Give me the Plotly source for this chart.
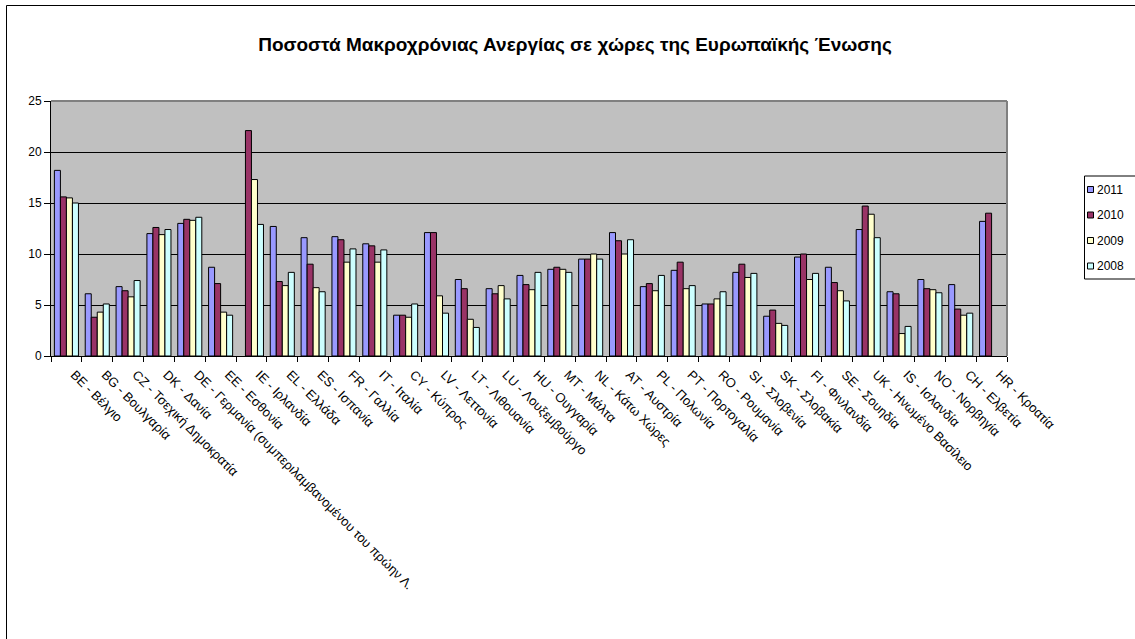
import plotly.graph_objects as go

categories = [
    "BE - Βέλγιο", "BG - Βουλγαρία", "CZ - Τσεχική Δημοκρατία", "DK - Δανία",
    "DE - Γερμανία (συμπεριλαμβανομένου του πρώην Λ.", "EE - Εσθονία", "IE - Ιρλανδία",
    "EL - Ελλάδα", "ES - Ισπανία", "FR - Γαλλία", "IT - Ιταλία", "CY - Κύπρος",
    "LV - Λεττονία", "LT - Λιθουανία", "LU - Λουξεμβούργο", "HU - Ουγγαρία", "MT - Μάλτα",
    "NL - Κάτω Χώρες", "AT - Αυστρία", "PL - Πολωνία", "PT - Πορτογαλία", "RO - Ρουμανία",
    "SI - Σλοβενία", "SK - Σλοβακία", "FI - Φινλανδία", "SE - Σουηδία",
    "UK - Ηνωμένο Βασίλειο", "IS - Ισλανδία", "NO - Νορβηγία", "CH - Ελβετία", "HR - Κροατία",
]

series_names = ["2011", "2010", "2009", "2008"]

values_2011 = [18.2, 6.1, 6.8, 12.0, 13.0, 8.7, None, 12.7, 11.6, 11.7, 11.0, 4.0, 12.1, 7.5, 6.6,
               7.9, 8.5, 9.5, 12.1, 6.8, 8.4, 5.1, 8.2, 3.9, 9.7, 8.7, 12.4, 6.3, 7.5, 7.0, 13.2]
values_2010 = [15.6, 3.8, 6.4, 12.6, 13.4, 7.1, 22.1, 7.3, 9.0, 11.4, 10.8, 4.0, 12.1, 6.6, 6.1,
               7.0, 8.7, 9.5, 11.3, 7.1, 9.2, 5.1, 9.0, 4.5, 10.0, 7.2, 14.7, 6.1, 6.6, 4.6, 14.0]
values_2009 = [15.5, 4.3, 5.8, 11.9, 13.3, 4.3, 17.3, 6.9, 6.7, 9.2, 9.2, 3.8, 5.9, 3.6, 6.9,
               6.5, 8.5, 10.0, 10.0, 6.4, 6.6, 5.6, 7.7, 3.2, 7.5, 6.4, 13.9, 2.2, 6.5, 4.0, None]
values_2008 = [15.0, 5.1, 7.4, 12.4, 13.6, 4.0, 12.9, 8.2, 6.3, 10.5, 10.4, 5.1, 4.2, 2.8, 5.6,
               8.2, 8.2, 9.5, 11.4, 7.9, 6.9, 6.3, 8.1, 3.0, 8.1, 5.4, 11.6, 2.9, 6.2, 4.2, None]

series_values = [values_2011, values_2010, values_2009, values_2008]
colors = ["#9999FF", "#993366", "#FFFFCC", "#CCFFFF"]

title_text = "Ποσοστά Μακροχρόνιας Ανεργίας σε χώρες της Ευρωπαϊκής Ένωσης"

W, H = 1135, 639
ML, MR, MT, MB = 51, 128, 101, 283
PW, PH = W - ML - MR, H - MT - MB
FONT = "Arial, Liberation Sans, sans-serif"


def px_x(px):
    return (px - ML) / PW


def px_y(py):
    return (H - MB - py) / PH


fig = go.Figure()
for name, vals, col in zip(series_names, series_values, colors):
    fig.add_trace(go.Bar(
        x=categories, y=vals, name=name,
        marker=dict(color=col, line=dict(color="black", width=1)),
        showlegend=False,
    ))

shapes = []
annotations = []

# plot area top/right border (gray)
shapes.append(dict(type="line", xref="paper", yref="paper", x0=0, x1=1, y0=1, y1=1,
                   line=dict(color="#808080", width=2), layer="above"))
shapes.append(dict(type="line", xref="paper", yref="paper", x0=1, x1=1, y0=0, y1=1,
                   line=dict(color="#808080", width=2), layer="above"))

# outer chart border
shapes.append(dict(type="rect", xref="paper", yref="paper",
                   x0=px_x(6.5), x1=px_x(1145), y0=px_y(5.5), y1=px_y(650),
                   line=dict(color="black", width=1), fillcolor="rgba(0,0,0,0)"))

# legend box
shapes.append(dict(type="rect", xref="paper", yref="paper",
                   x0=px_x(1084.5), x1=px_x(1145), y0=px_y(176), y1=px_y(279),
                   line=dict(color="black", width=1), fillcolor="white"))
for i, (name, col) in enumerate(zip(series_names, colors)):
    cy = 189.5 + 25.5 * i
    shapes.append(dict(type="rect", xref="paper", yref="paper",
                       x0=px_x(1087.5), x1=px_x(1093.5), y0=px_y(cy - 3), y1=px_y(cy + 3),
                       line=dict(color="black", width=1), fillcolor=col))
    annotations.append(dict(xref="paper", yref="paper", x=px_x(1095), y=px_y(cy),
                            xanchor="left", yanchor="middle", text=name, showarrow=False,
                            font=dict(family=FONT, size=12, color="black")))

fig.update_layout(
    width=W, height=H,
    margin=dict(l=ML, r=MR, t=MT, b=MB, pad=0),
    paper_bgcolor="white",
    plot_bgcolor="#C0C0C0",
    barmode="group",
    bargap=0.22,
    bargroupgap=0,
    title=dict(text=title_text, x=575 / W, xref="container", xanchor="center",
               y=1 - 44 / H, yref="container", yanchor="middle",
               font=dict(family=FONT, size=19, color="black", weight="bold")),
    font=dict(family=FONT, size=11, color="black"),
    shapes=shapes,
    annotations=annotations,
    showlegend=False,
)
fig.update_xaxes(
    type="category", tickangle=45, tickson="boundaries", ticks="outside", ticklen=5,
    tickcolor="black", showline=True, linecolor="black", linewidth=1,
    showgrid=False, tickfont=dict(family=FONT, size=13, color="black"),
    ticklabelshift=8, ticklabelstandoff=5,
)
fig.update_yaxes(
    range=[0, 25], dtick=5, ticks="outside", ticklen=6, tickcolor="black",
    showline=True, linecolor="black", linewidth=1, showgrid=True, gridcolor="black",
    gridwidth=1, zeroline=False, tickfont=dict(family=FONT, size=12, color="black"),
)

fig.write_html(
    "out.html",
    config={"displayModeBar": False},
    post_script="document.body.style.margin='0';document.body.style.overflow='hidden';",
)
